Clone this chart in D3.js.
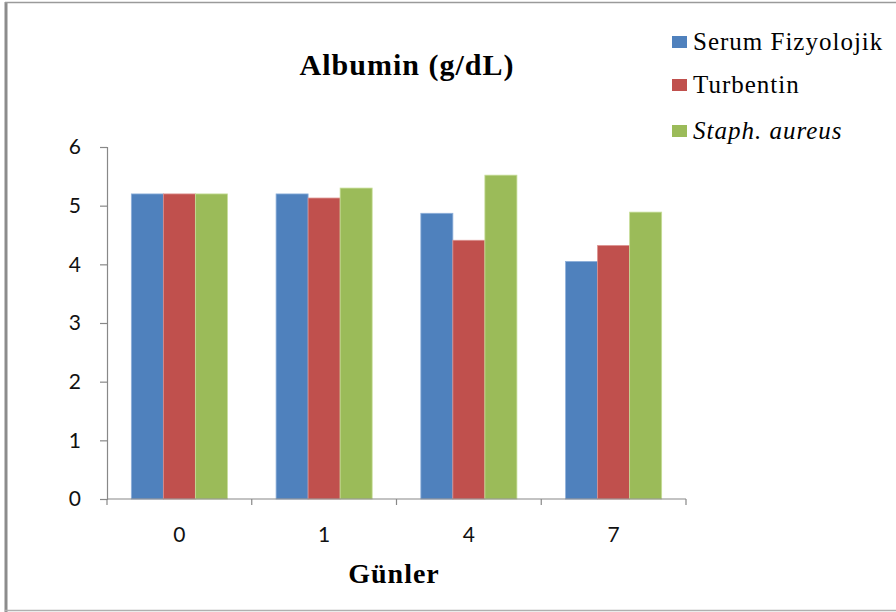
<!DOCTYPE html>
<html>
<head>
<meta charset="utf-8">
<script src="https://cdn.jsdelivr.net/npm/d3@7"></script>
<style>
  html, body { margin: 0; padding: 0; background: #fff; }
  svg { display: block; }
</style>
</head>
<body>
<svg id="chart" width="896" height="612"></svg>
<script>
// Albumin levels per day for the three groups
const days = ["0", "1", "4", "7"];
const seriesNames = ["Serum Fizyolojik", "Turbentin", "Staph. aureus"];
const serumFizyolojik = [5.20, 5.20, 4.87, 4.05];
const turbentin = [5.20, 5.13, 4.41, 4.32];
const staphAureus = [5.20, 5.30, 5.52, 4.89];
const yTicks = [0, 1, 2, 3, 4, 5, 6];
const colors = ["#4F81BD", "#C0504D", "#9BBB59"];
const edgeColors = ["#8EB0DA", "#DB8F8D", "#C6DD98"];

const seriesValues = [serumFizyolojik, turbentin, staphAureus];

const svg = d3.select("#chart");
const serif = "'Liberation Serif', 'Times New Roman', serif";
const sans = "Lato, 'Open Sans', sans-serif";

// outer frame
svg.append("line").attr("x1", 6).attr("x2", 6).attr("y1", 2).attr("y2", 612)
  .attr("stroke", "#8c8c8c").attr("stroke-width", 3);
svg.append("line").attr("x1", 5).attr("x2", 896).attr("y1", 2.5).attr("y2", 2.5)
  .attr("stroke", "#9a9a9a").attr("stroke-width", 1.5);
svg.append("line").attr("x1", 5).attr("x2", 896).attr("y1", 610.5).attr("y2", 610.5)
  .attr("stroke", "#b0b0b0").attr("stroke-width", 1.5);

const plot = { left: 107, right: 686, top: 147, bottom: 499 };

const x = d3.scaleBand().domain(days).range([plot.left, plot.right]).paddingInner(0).paddingOuter(0);
const inner = d3.scaleBand().domain(d3.range(seriesNames.length))
  .range([0, x.bandwidth()]).paddingOuter(0.76).paddingInner(0);
const y = d3.scaleLinear().domain([0, 6]).range([plot.bottom, plot.top]);

// bars
const groups = svg.append("g").selectAll("g")
  .data(seriesValues).join("g")
  .attr("fill", (d, i) => colors[i]);

groups.each(function (vals, si) {
  d3.select(this).selectAll("rect")
    .data(vals.map((v, di) => ({ v, day: days[di] })))
    .join("rect")
    .attr("x", d => x(d.day) + inner(si))
    .attr("width", inner.bandwidth())
    .attr("y", d => y(d.v))
    .attr("height", d => y(0) - y(d.v))
    .attr("stroke", edgeColors[si])
    .attr("stroke-width", 0.8);
});

// y axis
const yAxis = d3.axisLeft(y).tickValues(yTicks).tickSize(7).tickPadding(19).tickFormat(d3.format("d"));
const gy = svg.append("g").attr("transform", `translate(${plot.left},0)`).call(yAxis);
gy.select(".domain").attr("stroke", "#888").attr("stroke-width", 1.2);
gy.selectAll(".tick line").attr("stroke", "#888").attr("stroke-width", 1.2);
gy.selectAll(".tick text").attr("font-family", sans)
  .attr("font-size", 21).attr("fill", "#111");

// x axis with boundary ticks between categories
const boundaries = days.map(d => x(d)).concat([plot.right]);
const gx = svg.append("g");
gx.append("line").attr("x1", plot.left).attr("x2", plot.right)
  .attr("y1", plot.bottom).attr("y2", plot.bottom)
  .attr("stroke", "#888").attr("stroke-width", 1.2);
gx.selectAll("line.b").data(boundaries).join("line").attr("class", "b")
  .attr("x1", d => d).attr("x2", d => d)
  .attr("y1", plot.bottom).attr("y2", plot.bottom + 6)
  .attr("stroke", "#888").attr("stroke-width", 1.2);
gx.selectAll("text").data(days).join("text")
  .attr("x", d => x(d) + x.bandwidth() / 2)
  .attr("y", 542)
  .attr("text-anchor", "middle")
  .attr("font-family", sans)
  .attr("font-size", 21)
  .attr("fill", "#111")
  .text(d => d);

// titles
svg.append("text").attr("x", 407).attr("y", 75).attr("text-anchor", "middle")
  .attr("font-family", serif).attr("letter-spacing", 1)
  .attr("font-weight", "bold").attr("font-size", 30).text("Albumin (g/dL)");
svg.append("text").attr("x", 394).attr("y", 583).attr("text-anchor", "middle")
  .attr("font-family", serif).attr("letter-spacing", 1)
  .attr("font-weight", "bold").attr("font-size", 28).text("Günler");

// legend
const legendY = [42, 85, 131];
const legend = svg.append("g").selectAll("g").data(seriesNames).join("g")
  .attr("transform", (d, i) => `translate(672,${legendY[i]})`);
legend.append("rect").attr("x", 0).attr("y", -6).attr("width", 15).attr("height", 12)
  .attr("fill", (d, i) => colors[i]);
legend.append("text").attr("x", 21).attr("y", 8)
  .attr("font-family", serif)
  .attr("font-size", 25).attr("letter-spacing", 1)
  .attr("font-style", (d, i) => i === 2 ? "italic" : "normal")
  .text(d => d);
</script>
</body>
</html>
